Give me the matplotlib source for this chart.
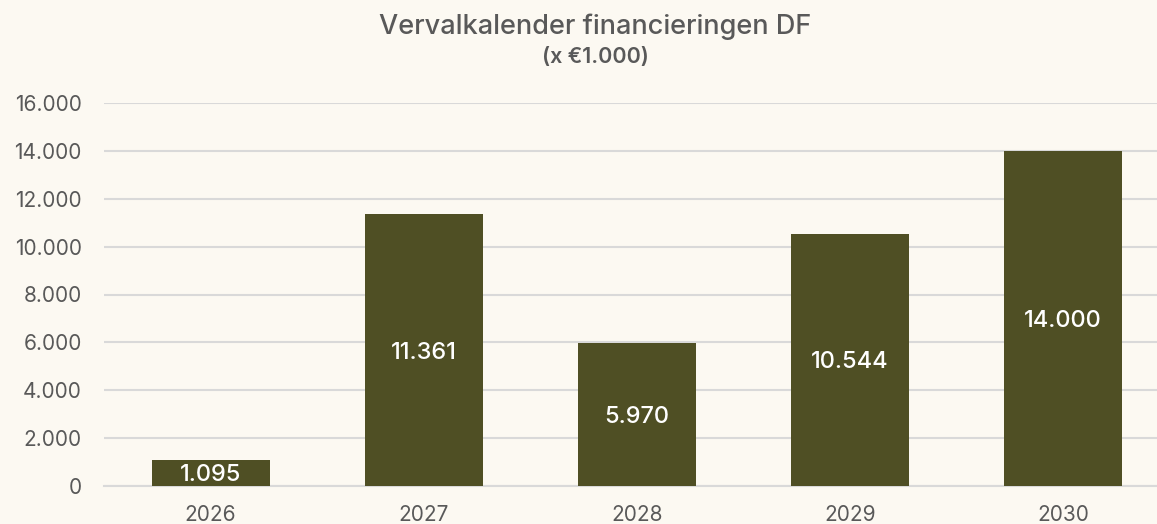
import matplotlib.pyplot as plt
import numpy as np

# data
jaren = ['2026', '2027', '2028', '2029', '2030']
bedragen = [1095, 11361, 5970, 10544, 14000]
labels = ['1.095', '11.361', '5.970', '10.544', '14.000']
yticks = [0, 2000, 4000, 6000, 8000, 10000, 12000, 14000, 16000]
ytick_labels = ['0', '2.000', '4.000', '6.000', '8.000', '10.000', '12.000', '14.000', '16.000']

bg = '#FCF9F2'
bar_kleur = '#4F4F24'
tekst = '#595959'

plt.rcParams['font.family'] = ['Inter', 'DejaVu Sans']

fig = plt.figure(figsize=(11.57, 5.24), dpi=100, facecolor=bg)
ax = fig.add_axes([104/1157, 1-486/524, 1-104/1157, (486-103)/524], facecolor=bg)

x = np.arange(len(jaren))
bars = ax.bar(x, bedragen, width=0.553, color=bar_kleur, zorder=3)
for b, lab in zip(bars, labels):
    ax.text(b.get_x() + b.get_width()/2, b.get_height()/2, lab,
            ha='center', va='center_baseline', color='white', fontsize=17,
            fontweight='medium', zorder=4)

ax.set_xlim(-0.5, 4.44)
ax.set_ylim(0, 16000)
ax.set_xticks(x)
ax.set_xticklabels(jaren)
ax.set_yticks(yticks)
ax.set_yticklabels(ytick_labels)
ax.tick_params(axis='both', length=0, labelsize=15, colors=tekst)
ax.tick_params(axis='y', pad=16)
ax.tick_params(axis='x', pad=14)
ax.grid(axis='y', color='#D9D9D9', linewidth=1.5, zorder=0)
for s in ['top', 'right', 'left']:
    ax.spines[s].set_visible(False)
ax.spines['bottom'].set_color('#D9D9D9')
ax.spines['bottom'].set_linewidth(1.5)

fig.text(595/1157, 1-27/524, 'Vervalkalender financieringen DF', ha='center', va='center',
         fontsize=19.5, color=tekst, fontweight='medium')
fig.text(595/1157, 1-57/524, '(x €1.000)', ha='center', va='center',
         fontsize=15.5, color=tekst, fontweight='semibold')

fig.savefig('out.png', dpi=100, facecolor=bg)
